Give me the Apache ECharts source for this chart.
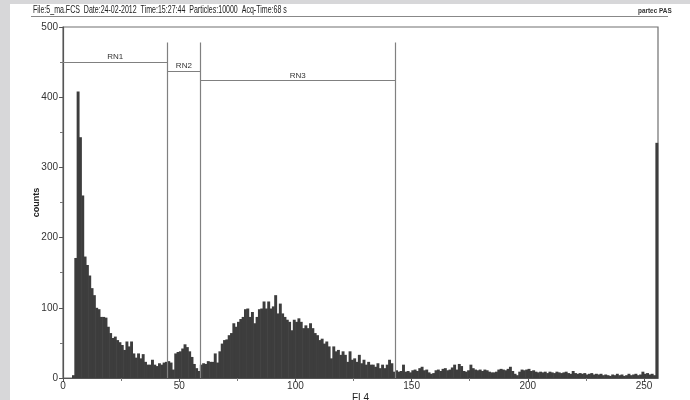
<!DOCTYPE html>
<html>
<head>
<meta charset="utf-8">
<title>FL4 histogram</title>
<script src="https://cdn.jsdelivr.net/npm/echarts@6/dist/echarts.min.js"></script>
<style>
  html, body { margin: 0; padding: 0; background: #fff; }
  #main { width: 690px; height: 400px; }
</style>
</head>
<body>
<div id="main"></div>
<script>
// FL4 channel counts, channel 0..255
var counts = [
    0,   0,   0,   0,   4, 171, 408, 343, 260, 173, 161, 146, 128, 118, 100,  98,
   87,  87,  86,  73,  64,  57,  59,  54,  51,  47,  40,  52,  45,  52,  35,  29,
   35,  28,  34,  23,  19,  19,  26,  19,  17,  21,  19,  22,  23,  24,  22,  12,
   35,  37,  38,  42,  48,  44,  38,  30,  20,  14,  10,  19,  21,  20,  24,  23,
   23,  35,  22,  38,  49,  54,  55,  61,  64,  78,  73,  80,  84,  87,  98,  99,
   87,  94,  78,  87,  98,  99, 109,  99, 109,  99, 102, 118,  92, 106,  92,  87,
   83,  80,  68,  83,  80,  85,  80,  71,  75,  71,  78,  71,  64,  61,  54,  56,
   49,  52,  45,  28,  45,  38,  40,  33,  38,  33,  23,  38,  26,  28,  23,  33,
   21,  26,  19,  23,  19,  19,  16,  21,  14,  19,  14,  19,  26,  21,   9,  11,
    9,  10,  19,   9,  10,   8,  11,  12,  10,  14,  16,  11,  12,   8,   6,   7,
   11,  12,  10,  13,  14,  11,  12,  15,  19,  12,  20,  17,  10,   9,  11,  19,
   14,  12,  11,  12,  10,  12,  11,   9,   8,   8,   9,  12,  13,  12,  11,  13,
   16,  10,   6,   4,   9,  12,  11,  12,  13,  10,  11,   9,   8,   9,   8,   9,
    7,   9,   8,   7,   9,   8,   7,   8,   9,   7,   6,  10,   7,   6,   7,   6,
    7,   5,   6,   7,   5,   6,   5,   6,   4,   5,   4,   3,   5,   4,   6,   4,
    5,   3,   4,   6,   4,   5,   6,   4,   5,   9,   6,   7,   5,   6,   4, 335
];

// 门控区域 (gates)
var gateNames = ['RN1', 'RN2', 'RN3'];
var gateStart = [0, 45, 59];
var gateEnd = [45, 59, 143];
var gateLevel = [450, 437, 424];
var gateTop = 478;
var gateEdges = [45, 59, 143];

var xTicks = [0, 50, 100, 150, 200, 250];
var yTicks = [0, 100, 200, 300, 400, 500];

var headerText = 'File:5_ma.FCS  Date:24-02-2012  Time:15:27:44  Particles:10000  Acq-Time:68 s';

var chart = echarts.init(document.getElementById('main'), null, {renderer: 'canvas'});

var gateLines = [];
gateNames.forEach(function (name, i) {
    gateLines.push([
        {name: name, coord: [gateStart[i], gateLevel[i]]},
        {coord: [gateEnd[i], gateLevel[i]]}
    ]);
});
gateEdges.forEach(function (x) {
    gateLines.push([
        {name: '', coord: [x, 0], label: {show: false}},
        {coord: [x, gateTop]}
    ]);
});

var option = {
    backgroundColor: '#ffffff',
    animation: false,
    textStyle: {fontFamily: 'Liberation Sans'},
    grid: {
        left: 63, right: 32, top: 27, bottom: 22,
        show: true, borderColor: '#707070', borderWidth: 1.2,
        containLabel: false, outerBoundsMode: 'none'
    },
    xAxis: {
        type: 'value', min: 0, max: 256, interval: 50,
        name: 'FL4', nameLocation: 'middle', nameGap: 15, nameMoveOverlap: false,
        nameTextStyle: {color: '#222', fontSize: 10},
        axisLine: {lineStyle: {color: '#555', width: 1.2}},
        axisTick: {show: true, length: 4, customValues: xTicks, lineStyle: {color: '#555'}},
        minorTick: {show: true, splitNumber: 2, length: 3, lineStyle: {color: '#777'}},
        axisLabel: {customValues: xTicks, color: '#333', fontSize: 10, margin: 3},
        splitLine: {show: false}
    },
    yAxis: {
        type: 'value', min: 0, max: 500, interval: 100,
        name: 'counts', nameLocation: 'middle', nameGap: 22, nameRotate: 90, nameMoveOverlap: false,
        nameTextStyle: {color: '#222', fontSize: 9, fontWeight: 'bold'},
        axisLine: {show: true, lineStyle: {color: '#555', width: 1.2}},
        axisTick: {show: true, length: 4, lineStyle: {color: '#555'}},
        minorTick: {show: true, splitNumber: 2, length: 3, lineStyle: {color: '#777'}},
        axisLabel: {customValues: yTicks, color: '#333', fontSize: 10, margin: 5},
        splitLine: {show: false}
    },
    series: [{
        type: 'custom',
        data: counts.map(function (v, i) { return [i, v]; }),
        encode: {x: 0, y: 1},
        renderItem: function (params, api) {
            var i = api.value(0), v = api.value(1);
            var p0 = api.coord([i, 0]);
            var p1 = api.coord([i + 1, v]);
            return {
                type: 'rect',
                shape: {x: p0[0] - 0.3, y: p1[1], width: p1[0] - p0[0] + 0.6, height: p0[1] - p1[1]},
                style: {fill: '#3d3d3d'}
            };
        },
        markLine: {
            silent: true,
            symbol: 'none',
            animation: false,
            lineStyle: {color: '#808080', width: 1.2, type: 'solid'},
            label: {
                show: true, position: 'insideMiddleTop', distance: 1,
                formatter: '{b}', color: '#333', fontSize: 8
            },
            data: gateLines
        }
    }],
    graphic: [
        {type: 'rect', left: 0, top: 0, shape: {width: 10, height: 400}, style: {fill: '#d7d7d9'}, silent: true},
        {type: 'rect', left: 0, top: 0, shape: {width: 690, height: 4}, style: {fill: '#d7d7d9'}, silent: true},
        {type: 'text', x: 33, y: 4, scaleX: 0.64, style: {text: headerText, fill: '#222', font: '11px "Liberation Sans"'}},
        {type: 'text', x: 638, y: 7, scaleX: 0.8, style: {text: 'partec PAS', fill: '#333', font: 'bold 8px "Liberation Sans"'}},
        {type: 'line', shape: {x1: 31, y1: 16.5, x2: 668, y2: 16.5}, style: {stroke: '#888', lineWidth: 1.2}, silent: true}
    ]
};

chart.setOption(option);
</script>
</body>
</html>
